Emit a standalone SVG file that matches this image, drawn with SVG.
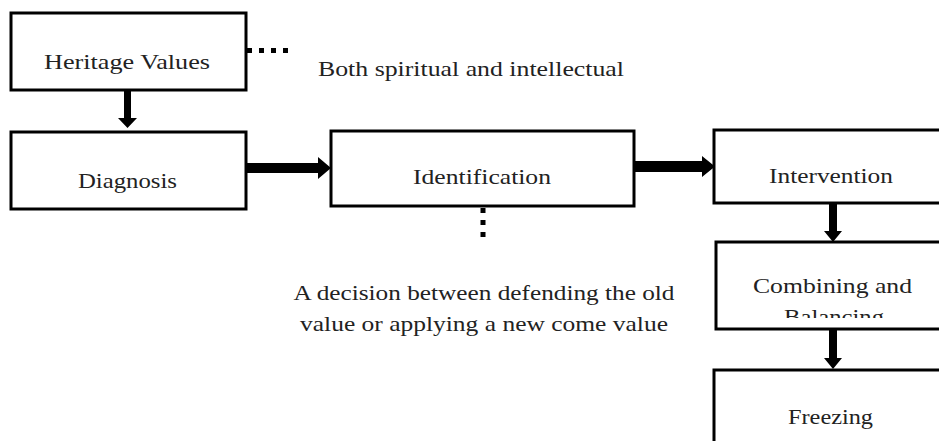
<svg xmlns="http://www.w3.org/2000/svg" width="939" height="441" viewBox="0 0 939 441">
<style>
.box{fill:#fff;stroke:#000;stroke-width:3}
.t{font-family:"Liberation Serif","Times New Roman",serif;font-size:22px;fill:#222;text-anchor:middle}
.arr{fill:#000}
.dot{stroke:#000;stroke-width:5;stroke-dasharray:5 7;fill:none}
</style>
<defs>
<clipPath id="clipComb"><rect x="717" y="244" width="222" height="74"/></clipPath>
</defs>
<rect width="939" height="441" fill="#fff"/>
<g id="connectors">
<polygon class="arr" points="124,90 131,90 131,118 137,118 127.5,128 118,118 124,118"/>
<polygon class="arr" points="246,163 318,163 318,157 331,168 318,179 318,173 246,173"/>
<polygon class="arr" points="634,161 702,161 702,156 715,166.5 702,177 702,172 634,172"/>
<polygon class="arr" points="829,203 837,203 837,231 842,231 833,242 824,231 829,231"/>
<polygon class="arr" points="829,329 837,329 837,358 842,358 833,369 824,358 829,358"/>
<line class="dot" x1="247" y1="50.5" x2="292" y2="50.5"/>
<line class="dot" x1="483" y1="208" x2="483" y2="240"/>
</g>
<g id="heritage">
<rect class="box" x="11" y="13" width="235" height="77"/>
<text class="t" x="127" y="69" textLength="166" lengthAdjust="spacingAndGlyphs">Heritage Values</text>
</g>
<g id="note-heritage">
<text class="t" x="471" y="76" textLength="306" lengthAdjust="spacingAndGlyphs">Both spiritual and intellectual</text>
</g>
<g id="diagnosis">
<rect class="box" x="11" y="132" width="235" height="77"/>
<text class="t" x="127.5" y="188" textLength="99" lengthAdjust="spacingAndGlyphs">Diagnosis</text>
</g>
<g id="identification">
<rect class="box" x="331" y="131" width="303" height="75"/>
<text class="t" x="482" y="184" textLength="138" lengthAdjust="spacingAndGlyphs">Identification</text>
</g>
<g id="note-identification">
<text class="t" x="484" y="300" textLength="381" lengthAdjust="spacingAndGlyphs">A decision between defending the old</text>
<text class="t" x="484" y="331" textLength="368" lengthAdjust="spacingAndGlyphs">value or applying a new come value</text>
</g>
<g id="intervention">
<rect class="box" x="714" y="130" width="240" height="73"/>
<text class="t" x="831" y="183" textLength="124" lengthAdjust="spacingAndGlyphs">Intervention</text>
</g>
<g id="combining">
<rect class="box" x="716" y="242" width="240" height="87"/>
<g clip-path="url(#clipComb)">
<text class="t" x="832.5" y="293" textLength="159" lengthAdjust="spacingAndGlyphs">Combining and</text>
<text class="t" x="834" y="324" textLength="100" lengthAdjust="spacingAndGlyphs">Balancing</text>
</g>
</g>
<g id="freezing">
<rect class="box" x="714" y="370" width="240" height="90"/>
<text class="t" x="830.5" y="424" textLength="85" lengthAdjust="spacingAndGlyphs">Freezing</text>
</g>
</svg>
